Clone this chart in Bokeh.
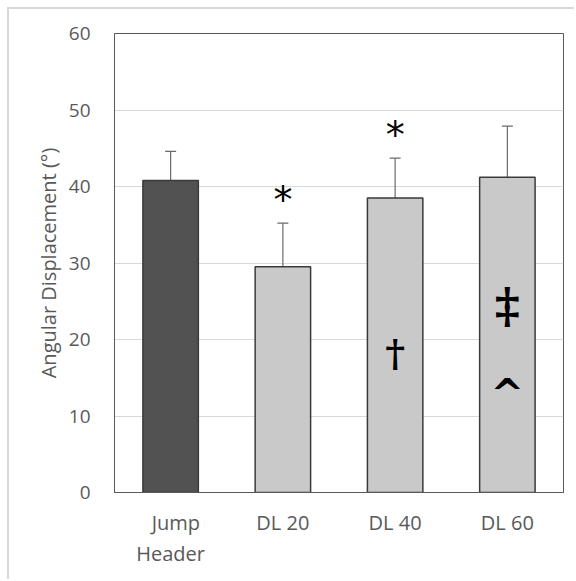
from bokeh.plotting import figure
from bokeh.models import ColumnDataSource, Whisker, FactorRange, Range1d, FixedTicker, TeeHead
from bokeh.core.properties import value
from bokeh.embed import file_html
from bokeh.resources import INLINE

# ---- data ----
categories = ["\u00a0\u00a0Jump\nHeader", "DL 20", "DL 40", "DL 60"]
means = [40.8, 29.5, 38.5, 41.2]
sds = [3.8, 5.7, 5.2, 6.7]
y_ticks = [0, 10, 20, 30, 40, 50, 60]

star_cats = ["DL 20", "DL 40"]
star_y = [38.2, 46.7]
dagger_cats = ["DL 40"]
dagger_y = [18.3]
ddagger_cats = ["DL 60"]
ddagger_y = [24.4]
caret_cats = ["DL 60"]
caret_y = [12.9]

FONT = "Open Sans"
PAD = 9  # outer chart border offset

src = ColumnDataSource(dict(
    cat=categories,
    mean=means,
    upper=[m + s for m, s in zip(means, sds)],
    lower=[m - s for m, s in zip(means, sds)],
    color=["#525252", "#c9c9c9", "#c9c9c9", "#c9c9c9"],
))

p = figure(
    x_range=FactorRange(*categories, range_padding=0),
    y_range=Range1d(0, 60),
    width=576 - PAD, height=581 - PAD,
    output_backend="svg", toolbar_location=None,
    min_border_left=114 - PAD, min_border_right=13, min_border_top=33 - PAD, min_border_bottom=89,
)
p.margin = (7, 0, 0, 7)
p.styles = {"border-top": "2px solid #d9d9d9", "border-left": "2px solid #d9d9d9"}
p.background_fill_color = "white"
p.border_fill_color = "white"
p.outline_line_color = "#595959"
p.outline_line_width = 1

p.xgrid.grid_line_color = None
p.ygrid.grid_line_color = "#d9d9d9"
p.ygrid.grid_line_width = 1
p.yaxis.ticker = FixedTicker(ticks=y_ticks)

for ax in (p.xaxis, p.yaxis):
    ax.major_tick_line_color = None
    ax.minor_tick_line_color = None
    ax.axis_line_color = "#595959"
    ax.major_label_text_font = FONT
    ax.major_label_text_color = "#595959"

yax = p.yaxis[0]
yax.major_label_text_font_size = "19px"
yax.major_label_standoff = 18
yax.axis_label = "Angular Displacement (°)"
yax.axis_label_text_font = FONT
yax.axis_label_text_font_size = "20px"
yax.axis_label_text_font_style = "normal"
yax.axis_label_text_color = "#595959"
yax.axis_label_standoff = 4

xax = p.xaxis[0]
xax.major_label_text_font_size = "20px"
xax.major_label_standoff = 10
xax.major_label_text_line_height = 1.15

p.vbar(x="cat", top="mean", width=0.494, source=src,
       fill_color="color", line_color="#3a3a3a", line_width=1.5)

w = Whisker(base="cat", upper="upper", lower="lower", source=src,
            line_color="#6a6a6a", line_width=1.2,
            upper_head=TeeHead(size=11, line_color="#6a6a6a", line_width=1.2),
            lower_head=TeeHead(size=11, line_color="#6a6a6a", line_width=1.2))
p.add_layout(w)

p.text(x=star_cats, y=star_y, text=["*"] * len(star_cats), text_font=value("DejaVu Sans"),
       text_font_size="38px", text_align="center", text_baseline="middle", text_color="black")
p.text(x=dagger_cats, y=dagger_y, text=["†"] * len(dagger_cats), text_font=value("DejaVu Serif"),
       text_font_size="38px", text_font_style="bold", text_align="center", text_baseline="middle",
       text_color="black")
p.text(x=ddagger_cats, y=ddagger_y, text=["‡"] * len(ddagger_cats), text_font=value("DejaVu Serif"),
       text_font_size="48px", text_font_style="bold", text_align="center", text_baseline="middle",
       text_color="black")
p.text(x=caret_cats, y=caret_y, text=["^"] * len(caret_cats), text_font=value("DejaVu Sans"),
       text_font_size="40px", text_font_style="bold", text_align="center", text_baseline="middle",
       text_color="black")

open("out.html", "w").write(file_html(p, INLINE))
